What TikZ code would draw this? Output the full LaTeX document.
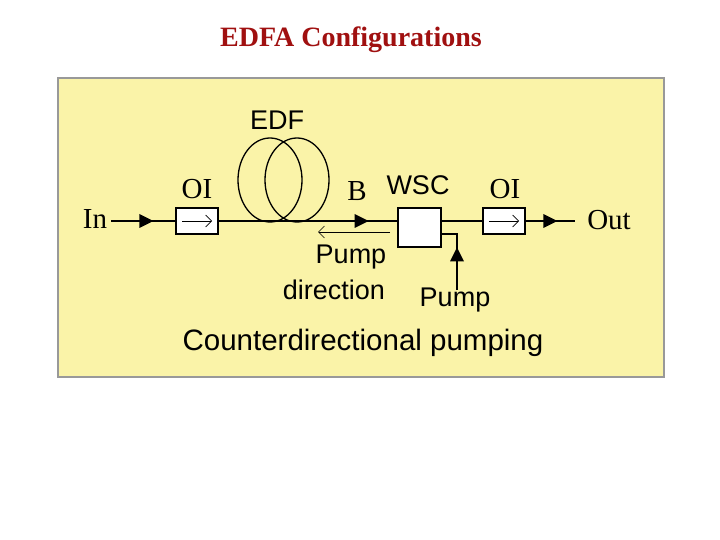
\documentclass[tikz,border=0pt]{standalone}
\usepackage{fontspec}
\setmainfont{Liberation Serif}
\newfontfamily\sansf{Liberation Sans}
\usetikzlibrary{arrows.meta,decorations.markings}
\definecolor{bg}{HTML}{FAF3A8}
\definecolor{ttl}{HTML}{A01010}
\tikzset{
 fib/.style={line width=1.5pt},
 tri/.style={postaction={decorate},decoration={markings,mark=at position #1 with {\fill (-7pt,-7pt)--(7pt,0)--(-7pt,7pt)--cycle;}}},
 box/.style={draw,line width=1.3pt,fill=white,inner sep=0pt},
 ser/.style={font=\fontsize{29}{29}\selectfont},
 san/.style={font=\sansf\fontsize{27}{27}\selectfont}
}
\begin{document}
\begin{tikzpicture}[x=1pt,y=-1pt]
\useasboundingbox (0,0) rectangle (720,540);
\fill[white] (0,0) rectangle (720,540);
\node[font=\bfseries\fontsize{28}{28}\selectfont,text=ttl] (t) at (351,40) {EDFA Configurations};
\draw[fill=bg,draw=gray!80,line width=1.5pt] (58,78) rectangle (664,377);
\node[ser] (in) at (95,219) {In};
\node[box,minimum width=42pt,minimum height=26pt] (oi1) at (197,221) {};
\node[box,minimum width=43pt,minimum height=39pt] (wsc) at (419.5,227.5) {};
\node[box,minimum width=42pt,minimum height=26pt] (oi2) at (504,221) {};
\node[ser] (out) at (609,220) {Out};
\coordinate (a0) at (111,221);
\coordinate (a1) at (575,221);
\draw[-{Straight Barb[length=6pt]},line width=0.7pt] ([xshift=-15pt]oi1.center) -- ([xshift=15pt]oi1.center);
\draw[-{Straight Barb[length=6pt]},line width=0.7pt] ([xshift=-15pt]oi2.center) -- ([xshift=15pt]oi2.center);
\draw[fib,tri=0.55] (a0) -- (oi1.west);
\draw[fib,tri=0.8] (oi1.east) -- (wsc.west|-oi1.east);
\draw[fib] (wsc.east|-oi2.west) -- (oi2.west);
\draw[fib,tri=0.5] (oi2.east) -- (a1);
\draw[line width=1.3pt] (270,180) ellipse [x radius=32, y radius=42];
\draw[line width=1.3pt] (297,180) ellipse [x radius=32, y radius=42];
\coordinate (pb) at (457,290);
\draw[fib,tri=0.5] (pb) -- (457,234) -- (wsc.east|-0,234);
\draw[-{Straight Barb[length=6pt]},line width=0.7pt] (390,232) -- (318,232);
\node[san] (edf) at (277,120) {EDF};
\node[ser] (l1) at (197,189) {OI};
\node[ser] (b) at (357,191) {B};
\node[san] (ws) at (418,185) {WSC};
\node[ser] (l2) at (505,189) {OI};
\node[san] (pd) at (351,257) {Pump};
\node[san] (pd2) at (334,290) {direction};
\node[san] (pp) at (455,300) {Pump};
\node[font=\sansf\fontsize{29.5}{29.5}\selectfont] (cp) at (363,343) {Counterdirectional pumping};
\end{tikzpicture}
\end{document}
